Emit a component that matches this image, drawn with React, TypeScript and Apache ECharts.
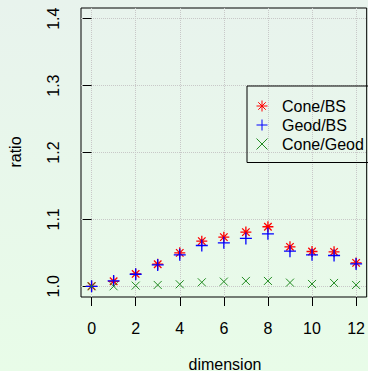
import React, { useEffect, useRef } from "react";
import * as echarts from "echarts";

const dims = [0, 1, 2, 3, 4, 5, 6, 7, 8, 9, 10, 11, 12];
const coneBS = [1.0, 1.0075, 1.0185, 1.033, 1.05, 1.0675, 1.0735, 1.081, 1.089, 1.059, 1.052, 1.0515, 1.035];
const geodBS = [1.0, 1.008, 1.018, 1.032, 1.047, 1.061, 1.065, 1.0715, 1.0785, 1.0525, 1.047, 1.046, 1.0335];
const coneGeod = [1.0, 1.0, 1.001, 1.002, 1.003, 1.006, 1.007, 1.008, 1.008, 1.0055, 1.0035, 1.005, 1.002];
const xTicks = [0, 2, 4, 6, 8, 10, 12];
const yTicks = [1.0, 1.1, 1.2, 1.3, 1.4];
const seriesNames = ["Cone/BS", "Geod/BS", "Cone/Geod"];
const seriesColors = ["#ff0000", "#0000ff", "#228b22"];

const ASTERISK = "path://M0,5L10,5M5,0L5,10M1.6,1.6L8.4,8.4M8.4,1.6L1.6,8.4";
const PLUS = "path://M0,5L10,5M5,0L5,10";
const CROSS = "path://M0,0L10,10M10,0L0,10";
const symbols = [ASTERISK, PLUS, CROSS];

const FONT = "Liberation Sans, Arial, Helvetica, sans-serif";
const FS = 16;

export default function App() {
  const ref = useRef<HTMLDivElement>(null);
  useEffect(() => {
    if (!ref.current) return;
    const chart = echarts.init(ref.current, undefined, { renderer: "svg" });
    const mk = (i: number, vals: number[], size: number, w: number) => ({
      name: seriesNames[i],
      type: "scatter",
      data: dims.map((d, k) => [d, vals[k]]),
      symbol: symbols[i],
      symbolSize: size,
      itemStyle: { color: "transparent", borderColor: seriesColors[i], borderWidth: w, opacity: 1 },
      emphasis: { disabled: true },
    });
    chart.setOption({
      animation: false,
      backgroundColor: new echarts.graphic.LinearGradient(0, 0, 0, 1, [
        { offset: 0, color: "#e8f3ed" },
        { offset: 1, color: "#e8fce8" },
      ]),
      textStyle: { fontFamily: FONT },
      grid: {
        left: 81,
        top: 8,
        width: 288,
        height: 289,
        show: true,
        borderColor: "#000",
        borderWidth: 1,
        backgroundColor: "transparent",
        containLabel: false,
      },
      xAxis: {
        type: "value",
        min: -0.48,
        max: 12.48,
        axisLine: { show: false },
        axisTick: { show: true, length: 9, customValues: xTicks, lineStyle: { color: "#000" } },
        axisLabel: { customValues: xTicks, margin: 23, fontSize: FS, color: "#000", fontFamily: FONT },
        splitLine: { show: true, lineStyle: { type: "dotted", color: "#c8c8c8", width: 1 } },
      },
      yAxis: {
        type: "value",
        min: 0.984,
        max: 1.416,
        axisLine: { show: false },
        axisTick: { show: true, length: 9, customValues: yTicks, lineStyle: { color: "#000" } },
        axisLabel: {
          customValues: yTicks,
          rotate: 90,
          margin: 20,
          fontSize: FS,
          color: "#000",
          fontFamily: FONT,
          formatter: (v: number) => v.toFixed(1),
        },
        splitLine: { show: true, lineStyle: { type: "dotted", color: "#c8c8c8", width: 1 } },
      },
      legend: {
        data: seriesNames.map((n, i) => ({
          name: n,
          icon: symbols[i],
          itemStyle: { color: "transparent", borderColor: seriesColors[i], borderWidth: 1 },
        })),
        orient: "vertical",
        left: 247,
        top: 86,
        itemWidth: 30,
        itemHeight: 11,
        itemGap: 0,
        padding: [10.5, 30, 9, 9],
        borderColor: "#000",
        borderWidth: 1,
        borderRadius: 0,
        selectedMode: false,
        textStyle: { fontSize: FS, color: "#000", fontFamily: FONT, lineHeight: 19 },
      },
      graphic: [
        {
          type: "text",
          x: 15,
          y: 152,
          rotation: Math.PI / 2,
          style: { text: "ratio", font: `${FS}px ${FONT}`, fill: "#000", textAlign: "center", textVerticalAlign: "middle" },
        },
        {
          type: "text",
          x: 225,
          y: 364,
          style: { text: "dimension", font: `${FS}px ${FONT}`, fill: "#000", textAlign: "center", textVerticalAlign: "middle" },
        },
      ],
      series: [
        mk(0, coneBS, 11, 1.3),
        mk(1, geodBS, 12, 1.3),
        mk(2, coneGeod, 8, 1),
      ],
    });
    return () => chart.dispose();
  }, []);
  return <div ref={ref} style={{ position: "fixed", left: 0, top: 0, width: 368, height: 371 }} />;
}
